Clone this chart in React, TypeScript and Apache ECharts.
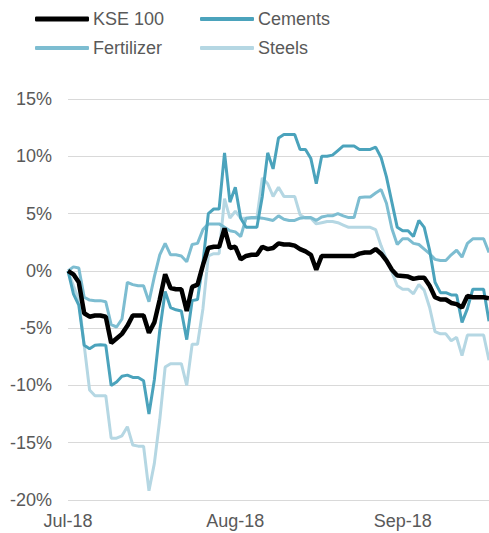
import React, { useEffect, useRef } from "react";
import * as echarts from "echarts";

const START_DATE = "2018-07-01";
const DAY_COUNT = 79;

const yTicks = [-20, -15, -10, -5, 0, 5, 10, 15];

const kse100 = [
  0, -0.3, -1.0, -3.7, -4.0, -3.9, -3.9, -4.0, -6.3, -5.9, -5.5, -4.8, -3.9, -3.9, -3.9, -5.4, -4.5, -2.5, -0.3, -1.5,
  -1.6, -1.6, -3.5, -1.4, -1.2, 0.5, 2.0, 2.1, 2.1, 3.7, 2.0, 2.1, 1.0, 1.3, 1.4, 1.4, 2.1, 1.9, 2.0, 2.4,
  2.3, 2.3, 2.2, 1.9, 1.7, 1.4, 0.1, 1.3, 1.3, 1.3, 1.3, 1.3, 1.3, 1.3, 1.5, 1.6, 1.6, 1.9, 1.5, 0.9,
  0.1, -0.4, -0.45, -0.5, -0.7, -0.6, -0.6, -1.3, -2.3, -2.5, -2.5, -2.8, -2.9, -3.2, -2.2, -2.3, -2.3, -2.3, -2.4,
];

const cements = [
  0, -2.0, -3.0, -6.5, -6.8, -6.5, -6.45, -6.5, -10.0, -9.7, -9.2, -9.1, -9.3, -9.3, -9.6, -12.5, -9.5, -5.2, -1.8, -3.2,
  -3.4, -3.5, -6.0, -2.6, -2.5, 0.7, 5.0, 5.4, 5.4, 10.3, 6.0, 7.3, 4.6, 3.8, 3.8, 3.8, 6.5, 10.3, 8.9, 11.6,
  11.9, 11.9, 11.9, 10.6, 10.6, 9.8, 7.6, 10.0, 10.0, 10.1, 10.5, 10.9, 10.9, 10.9, 10.6, 10.6, 10.6, 10.8, 9.9, 8.2,
  6.0, 3.8, 3.5, 3.5, 3.0, 4.4, 3.8, 1.8, -1.0, -1.9, -1.9, -2.1, -2.1, -4.5, -3.3, -1.6, -1.6, -1.6, -4.4,
];

const fertilizer = [
  0, 0.35, 0.25, -2.3, -2.55, -2.6, -2.6, -2.7, -4.7, -4.9, -4.2, -1.0, -1.2, -1.3, -1.3, -2.7, -0.5, 1.4, 2.4, 1.4,
  1.4, 1.3, 0.8, 2.3, 2.4, 3.6, 4.1, 4.1, 4.1, 3.8, 3.5, 3.4, 3.0, 4.6, 4.65, 4.65, 4.6, 4.5, 4.4, 4.8,
  4.5, 4.4, 4.4, 4.6, 4.65, 4.65, 4.4, 4.7, 4.8, 4.8, 5.0, 4.8, 4.65, 4.65, 6.4, 6.45, 6.45, 6.8, 7.1, 5.9,
  3.7, 2.3, 2.8, 2.8, 2.4, 2.3, 1.9, 1.5, 1.0, 0.9, 0.9, 1.4, 1.8, 1.2, 2.4, 2.8, 2.8, 2.8, 1.6,
];

const steels = [
  0, -1.3, -2.5, -6.5, -10.4, -10.9, -10.9, -10.9, -14.6, -14.6, -14.4, -13.6, -15.2, -15.3, -15.3, -19.2, -16.8, -13.0, -8.4, -8.1,
  -8.1, -8.1, -10.0, -6.4, -6.4, -3.3, 1.3, 1.5, 1.5, 6.3, 4.6, 5.2, 4.6, 4.6, 4.6, 4.6, 8.1, 7.6, 6.5, 7.3,
  6.5, 6.5, 6.5, 4.9, 4.6, 4.6, 4.1, 4.2, 4.3, 4.3, 4.2, 4.0, 3.8, 3.8, 3.8, 3.8, 3.8, 3.6, 2.2, 1.0,
  -0.1, -1.3, -1.6, -1.6, -2.0, -1.2, -1.7, -3.2, -5.3, -5.5, -5.5, -6.1, -5.8, -7.4, -5.6, -5.6, -5.6, -5.6, -7.8,
];

const MONTHS = ["Jan", "Feb", "Mar", "Apr", "May", "Jun", "Jul", "Aug", "Sep", "Oct", "Nov", "Dec"];

function buildDates(start: string, n: number): string[] {
  const out: string[] = [];
  const d0 = new Date(start + "T00:00:00Z");
  for (let i = 0; i < n; i++) {
    const d = new Date(d0.getTime() + i * 86400000);
    out.push(d.toISOString().slice(0, 10));
  }
  return out;
}

const dates = buildDates(START_DATE, DAY_COUNT);

const COLORS = {
  kse: "#000000",
  cements: "#4BA3BC",
  fertilizer: "#7DBDD1",
  steels: "#B5D7E3",
};

const FONT = "Liberation Sans, Arial, sans-serif";
const TEXT = "#595959";

export default function App() {
  const ref = useRef<HTMLDivElement>(null);
  useEffect(() => {
    if (!ref.current) return;
    const chart = echarts.init(ref.current, null, { renderer: "svg" });
    const legendText = { color: TEXT, fontSize: 18, fontFamily: FONT, padding: [0, 0, 0, -1] };
    const mkLegend = (name: string, left: number, top: number, h: number) => ({
      data: [name],
      left,
      top,
      icon: "roundRect",
      itemWidth: 54,
      itemHeight: h,
      itemGap: 0,
      padding: 0,
      textStyle: legendText,
      selectedMode: false,
    });
    chart.setOption({
      animation: false,
      backgroundColor: "#ffffff",
      legend: [
        mkLegend("KSE 100", 35, 10, 5),
        mkLegend("Cements", 200, 10, 4),
        mkLegend("Fertilizer", 35, 39, 4),
        mkLegend("Steels", 200, 39, 4),
      ],
      grid: { left: 68, right: 0, top: 99, bottom: 33, containLabel: false },
      xAxis: {
        type: "category",
        data: dates,
        boundaryGap: false,
        axisLine: { show: false },
        axisTick: { show: false },
        splitLine: { show: false },
        axisLabel: {
          interval: (_i: number, v: string) => v.endsWith("-01"),
          formatter: (v: string) => {
            const m = parseInt(v.slice(5, 7), 10) - 1;
            return MONTHS[m] + "-" + v.slice(2, 4);
          },
          color: TEXT,
          fontSize: 18,
          fontFamily: FONT,
          margin: 12,
        },
      },
      yAxis: {
        type: "value",
        min: yTicks[0],
        max: yTicks[yTicks.length - 1],
        interval: 5,
        axisLine: { show: false },
        axisTick: { show: false },
        splitLine: { show: true, lineStyle: { color: "#D9D9D9", width: 1 } },
        axisLabel: {
          formatter: (v: number) => v + "%",
          color: TEXT,
          fontSize: 18,
          fontFamily: FONT,
          margin: 16,
        },
      },
      series: [
        {
          name: "Steels",
          type: "line",
          data: steels,
          symbol: "none",
          lineStyle: { color: COLORS.steels, width: 3 },
          itemStyle: { color: COLORS.steels },
          z: 2,
        },
        {
          name: "Fertilizer",
          type: "line",
          data: fertilizer,
          symbol: "none",
          lineStyle: { color: COLORS.fertilizer, width: 3 },
          itemStyle: { color: COLORS.fertilizer },
          z: 3,
        },
        {
          name: "Cements",
          type: "line",
          data: cements,
          symbol: "none",
          lineStyle: { color: COLORS.cements, width: 3 },
          itemStyle: { color: COLORS.cements },
          z: 4,
        },
        {
          name: "KSE 100",
          type: "line",
          data: kse100,
          symbol: "none",
          lineStyle: { color: COLORS.kse, width: 4.5 },
          itemStyle: { color: COLORS.kse },
          z: 5,
        },
      ],
    });
    return () => chart.dispose();
  }, []);
  return (
    <div
      ref={ref}
      style={{ position: "fixed", left: 0, top: 0, width: 489, height: 533, background: "#fff" }}
    />
  );
}
